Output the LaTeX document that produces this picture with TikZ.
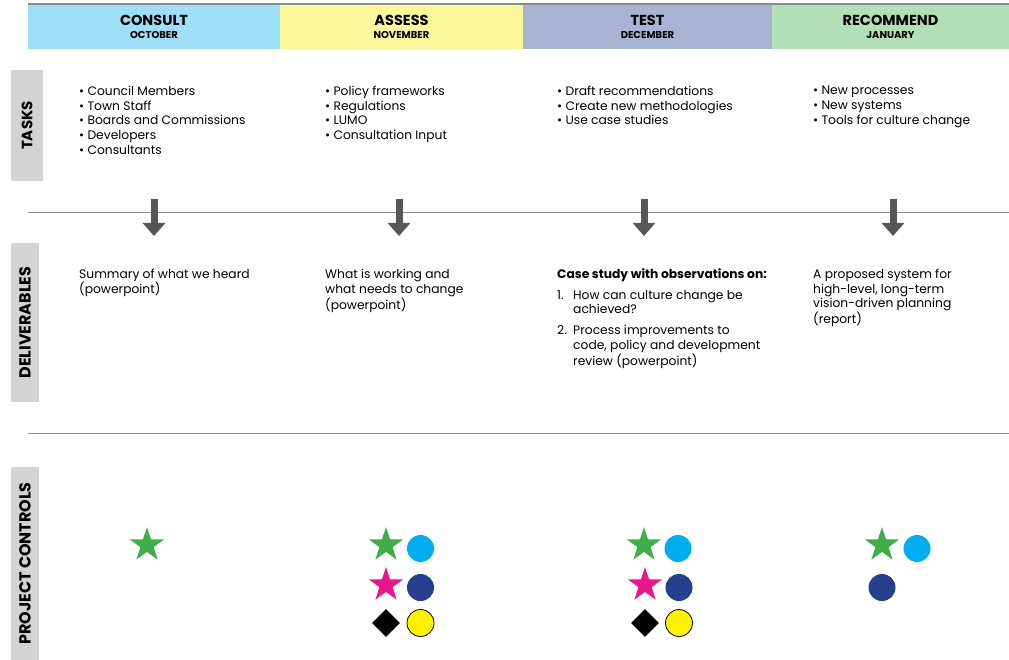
\documentclass[tikz,border=0pt]{standalone}
\usepackage{fontspec}
\setmainfont{Poppins}
\usetikzlibrary{arrows.meta, shapes.geometric}
\definecolor{consult}{HTML}{9EDEF6}
\definecolor{assess}{HTML}{FBF89C}
\definecolor{testcol}{HTML}{A9B3D3}
\definecolor{recommend}{HTML}{B3DFB6}
\definecolor{sidegray}{HTML}{D3D3D3}
\definecolor{rulegray}{HTML}{8C8C8C}
\definecolor{arrowgray}{HTML}{575757}
\definecolor{stargreen}{HTML}{3EAD4A}
\definecolor{starpink}{HTML}{E8168B}
\definecolor{dotcyan}{HTML}{00AEEF}
\definecolor{dotnavy}{HTML}{263F8E}
\definecolor{dotyellow}{HTML}{FFF100}

\newcommand{\taskfont}{\fontsize{12.3}{14.7}\selectfont}
\newcommand{\monthfont}{\fontsize{10}{11}\selectfont}

\begin{document}
\begin{tikzpicture}[x=1pt, y=-1pt, font=\taskfont,
  head/.style={minimum width=#1, minimum height=45, inner sep=0, align=center, font=\fontsize{14.5}{15}\selectfont\bfseries},
  side/.style={fill=sidegray, rotate=90, minimum height=28, inner sep=0, font=\fontsize{16}{17}\selectfont\bfseries},
  txt/.style={anchor=north west, inner sep=0, align=left},
  bigarrow/.style={arrowgray, line width=7, -{Triangle[width=22, length=13]}},
  gstar/.style={star, star points=5, star point ratio=2.6, minimum size=36, inner sep=0, fill=stargreen},
  pstar/.style={gstar, fill=starpink},
  dot/.style={circle, minimum size=27, inner sep=0, fill=#1}]
  \useasboundingbox (0,0) rectangle (1009,660);

  % header row
  \node[head=252, fill=consult] (hd1) at (154,26.5) {CONSULT\\[-2pt]{\monthfont OCTOBER}};
  \node[head=243, fill=assess] (hd2) at (401.5,26.5) {ASSESS\\[-2pt]{\monthfont NOVEMBER}};
  \node[head=249, fill=testcol] (hd3) at (647.5,26.5) {TEST\\[-2pt]{\monthfont DECEMBER}};
  \node[head=237, fill=recommend] (hd4) at (890.5,26.5) {RECOMMEND\\[-2pt]{\monthfont JANUARY}};
  \draw[rulegray, line width=1.5] (hd1.north west) -- (hd4.north east);

  % row labels
  \node[side, minimum width=111, minimum height=32, font=\fontsize{15}{16}\selectfont\bfseries] (lbTasks) at (27,125.5) {TASKS};
  \node[side, minimum width=159] (lbDeliv) at (25,322.5) {DELIVERABLES};
  \node[side, minimum width=193] (lbCtrl) at (25,563.5) {PROJECT CONTROLS};

  % tasks
  \node[txt] (task1) at (79,86) {\textbullet\ Council Members\\\textbullet\ Town Staff\\\textbullet\ Boards and Commissions\\\textbullet\ Developers\\\textbullet\ Consultants};
  \node[txt] (task2) at (325,86) {\textbullet\ Policy frameworks\\\textbullet\ Regulations\\\textbullet\ LUMO\\\textbullet\ Consultation Input};
  \node[txt] (task3) at (557,86) {\textbullet\ Draft recommendations\\\textbullet\ Create new methodologies\\\textbullet\ Use case studies};
  \node[txt] (task4) at (813,86) {\textbullet\ New processes\\\textbullet\ New systems\\\textbullet\ Tools for culture change};

  % separators
  \draw[rulegray] (28,212) -- (1009,212);
  \draw[rulegray] (28,433) -- (1009,433);

  % arrows
  \coordinate (arTop1) at (154,199);  \coordinate (arBot1) at (154,236);
  \coordinate (arTop2) at (399,199);  \coordinate (arBot2) at (399,236);
  \coordinate (arTop3) at (644,199);  \coordinate (arBot3) at (644,236);
  \coordinate (arTop4) at (893,199);  \coordinate (arBot4) at (893,236);
  \draw[bigarrow] (arTop1) -- (arBot1);
  \draw[bigarrow] (arTop2) -- (arBot2);
  \draw[bigarrow] (arTop3) -- (arBot3);
  \draw[bigarrow] (arTop4) -- (arBot4);

  % deliverables
  \node[txt] (del1) at (79,269) {Summary of what we heard\\(powerpoint)};
  \node[txt] (del2) at (325,269) {What is working and\\what needs to change\\(powerpoint)};
  \node[txt] (del3) at (557,268) {\begin{tabular}{@{}p{10pt}@{\hspace{6pt}}l@{}}
    \multicolumn{2}{@{}l@{}}{\bfseries Case study with observations on:}\\[6pt]
    1. & How can culture change be\\
       & achieved?\\[6pt]
    2. & Process improvements to\\
       & code, policy and development\\
       & review (powerpoint)
  \end{tabular}};
  \node[txt] (del4) at (813,269) {A proposed system for\\high-level, long-term\\vision-driven planning\\(report)};

  % project controls
  \node[gstar] (c1star) at (147,545) {};

  \node[gstar] (c2star) at (386,545) {};
  \node[dot=dotcyan] (c2cyan) at (420.5,548.5) {};
  \node[pstar] (c2pink) at (386,585) {};
  \node[dot=dotnavy] (c2navy) at (420.5,587.5) {};
  \node[diamond, fill=black, minimum size=28, inner sep=0] (c2dia) at (386,623) {};
  \node[dot=dotyellow, draw=black, line width=0.8] (c2yel) at (420.5,623) {};

  \node[gstar] (c3star) at (644,545) {};
  \node[dot=dotcyan] (c3cyan) at (678,548.5) {};
  \node[pstar] (c3pink) at (645,585) {};
  \node[dot=dotnavy] (c3navy) at (679,587.5) {};
  \node[diamond, fill=black, minimum size=28, inner sep=0] (c3dia) at (645,623) {};
  \node[dot=dotyellow, draw=black, line width=0.8] (c3yel) at (679,623) {};

  \node[gstar] (c4star) at (882,545) {};
  \node[dot=dotcyan] (c4cyan) at (917,548.5) {};
  \node[dot=dotnavy] (c4navy) at (882,587.5) {};
\end{tikzpicture}
\end{document}
